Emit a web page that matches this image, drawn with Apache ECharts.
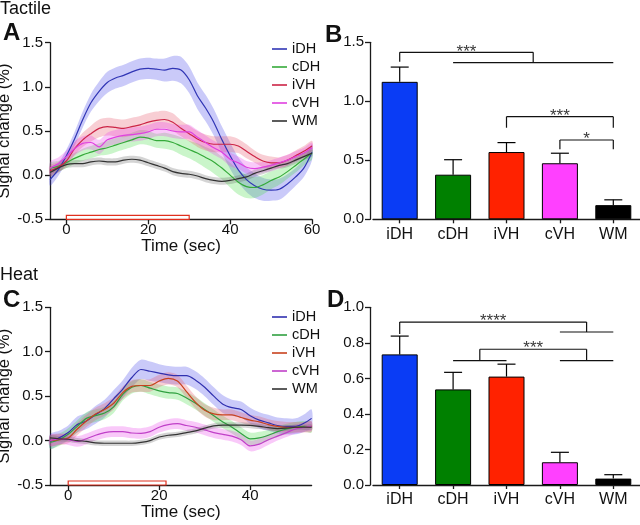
<!DOCTYPE html>
<html><head><meta charset="utf-8">
<script src="https://cdn.jsdelivr.net/npm/echarts@6/dist/echarts.min.js"></script>
<style>html,body{margin:0;padding:0;background:#fff}#c{width:640px;height:525px}</style>
</head><body><div id="c"></div>
<script>
// ---------- DATA ----------
const names = ['iDH','cDH','iVH','cVH','WM'];
const tickA = [0,20,40,60];
const tickC = [0,20,40];
const stimA = [0,30];
const stimC = [0,21.5];

const tA = [-4,-2,0,2,4,6,8,10,12,14,16,18,20,22,24,26,28,30,32,34,36,38,40,42,44,46,48,50,52,54,56,58,60];
const iDH_A = [-0.05,0.06,0.22,0.41,0.63,0.82,0.95,1.05,1.1,1.13,1.17,1.2,1.21,1.2,1.19,1.21,1.19,1.08,0.9,0.76,0.6,0.4,0.22,0.06,-0.05,-0.12,-0.16,-0.17,-0.16,-0.1,-0.02,0.08,0.26];
const cDH_A = [0.08,0.1,0.14,0.19,0.23,0.26,0.29,0.31,0.34,0.37,0.4,0.43,0.42,0.39,0.39,0.37,0.33,0.29,0.25,0.2,0.15,0.08,0.0,-0.08,-0.13,-0.14,-0.11,-0.06,-0.02,0.04,0.11,0.18,0.25];
const iVH_A = [0.05,0.09,0.16,0.3,0.4,0.47,0.53,0.55,0.54,0.53,0.55,0.57,0.6,0.62,0.63,0.6,0.53,0.47,0.41,0.37,0.35,0.35,0.35,0.33,0.27,0.21,0.16,0.14,0.14,0.17,0.22,0.27,0.33];
const cVH_A = [0.08,0.13,0.21,0.3,0.36,0.37,0.32,0.4,0.43,0.45,0.46,0.47,0.49,0.52,0.52,0.5,0.49,0.49,0.43,0.37,0.31,0.26,0.18,0.14,0.09,0.075,0.09,0.11,0.14,0.17,0.21,0.25,0.31];
const WM_A  = [0.03,0.08,0.12,0.13,0.13,0.15,0.16,0.15,0.15,0.17,0.18,0.17,0.14,0.11,0.08,0.04,0.02,0.01,-0.01,-0.04,-0.06,-0.07,-0.06,-0.04,-0.02,0.02,0.05,0.08,0.11,0.13,0.17,0.21,0.25];
const iDH_A_sem = [0.07,0.07,0.07,0.08,0.09,0.1,0.11,0.12,0.12,0.12,0.12,0.12,0.12,0.12,0.13,0.14,0.15,0.15,0.15,0.15,0.15,0.15,0.15,0.14,0.14,0.14,0.13,0.12,0.12,0.11,0.1,0.1,0.09];
const cDH_A_sem = [0.06,0.06,0.06,0.06,0.07,0.07,0.07,0.08,0.08,0.08,0.08,0.08,0.08,0.08,0.09,0.09,0.1,0.1,0.11,0.12,0.13,0.13,0.14,0.14,0.13,0.12,0.11,0.1,0.09,0.08,0.08,0.07,0.07];
const iVH_A_sem = [0.06,0.06,0.06,0.07,0.08,0.09,0.1,0.1,0.1,0.1,0.1,0.1,0.1,0.1,0.1,0.1,0.09,0.09,0.09,0.09,0.09,0.09,0.09,0.08,0.08,0.07,0.07,0.07,0.06,0.06,0.06,0.06,0.06];
const cVH_A_sem = [0.07,0.07,0.07,0.08,0.08,0.08,0.08,0.08,0.08,0.08,0.08,0.08,0.08,0.08,0.08,0.08,0.08,0.08,0.08,0.08,0.08,0.08,0.08,0.07,0.07,0.07,0.06,0.06,0.06,0.06,0.06,0.06,0.06];
const WM_A_sem  = [0.05,0.05,0.04,0.04,0.04,0.04,0.04,0.04,0.04,0.04,0.04,0.04,0.04,0.04,0.04,0.04,0.04,0.04,0.04,0.04,0.04,0.04,0.04,0.04,0.04,0.04,0.04,0.04,0.04,0.04,0.04,0.04,0.04];

const tC = [-4,-2,0,2,4,6,8,10,12,14,16,18,20,22,24,26,28,30,32,34,36,38,40,42,44,46,48,50,52,53.5];
const iDH_C = [-0.01,0.03,0.09,0.18,0.22,0.29,0.36,0.47,0.58,0.71,0.8,0.78,0.76,0.74,0.73,0.73,0.68,0.6,0.5,0.41,0.37,0.35,0.28,0.23,0.2,0.17,0.16,0.16,0.2,0.25];
const cDH_C = [-0.02,0.01,0.07,0.16,0.25,0.28,0.31,0.38,0.52,0.6,0.62,0.59,0.56,0.54,0.53,0.48,0.42,0.35,0.28,0.21,0.15,0.08,0.02,0.03,0.06,0.1,0.13,0.15,0.16,0.15];
const iVH_C = [0.0,0.01,0.03,0.13,0.22,0.3,0.35,0.42,0.54,0.61,0.62,0.62,0.67,0.7,0.67,0.55,0.43,0.34,0.3,0.29,0.29,0.26,0.23,0.21,0.18,0.16,0.15,0.15,0.15,0.16];
const cVH_C = [0.0,0.02,0.01,-0.01,0.02,0.06,0.09,0.1,0.1,0.085,0.08,0.1,0.15,0.18,0.19,0.17,0.15,0.12,0.09,0.07,0.05,0.01,-0.06,-0.04,0.01,0.05,0.09,0.13,0.15,0.16];
const WM_C  = [0.03,0.02,0.015,0.0,-0.01,-0.025,-0.03,-0.03,-0.03,-0.03,-0.02,0.0,0.04,0.06,0.07,0.09,0.11,0.14,0.165,0.175,0.175,0.175,0.17,0.16,0.145,0.135,0.14,0.15,0.15,0.15];
const iDH_C_sem = [0.08,0.08,0.08,0.09,0.09,0.1,0.1,0.1,0.1,0.11,0.11,0.11,0.1,0.1,0.1,0.1,0.1,0.1,0.1,0.1,0.09,0.09,0.09,0.09,0.09,0.09,0.09,0.09,0.1,0.1];
const cDH_C_sem = [0.07,0.07,0.07,0.07,0.07,0.07,0.07,0.07,0.07,0.07,0.07,0.07,0.07,0.07,0.07,0.07,0.07,0.07,0.07,0.07,0.07,0.07,0.07,0.07,0.06,0.06,0.06,0.06,0.06,0.06];
const iVH_C_sem = [0.06,0.06,0.06,0.07,0.07,0.07,0.07,0.07,0.07,0.07,0.07,0.07,0.07,0.07,0.07,0.07,0.07,0.07,0.07,0.06,0.06,0.06,0.06,0.06,0.06,0.06,0.06,0.06,0.06,0.06];
const cVH_C_sem = [0.06,0.06,0.06,0.06,0.06,0.06,0.06,0.06,0.06,0.06,0.06,0.06,0.06,0.06,0.06,0.06,0.06,0.06,0.06,0.06,0.06,0.06,0.06,0.06,0.06,0.05,0.05,0.05,0.05,0.05];
const WM_C_sem  = [0.03,0.03,0.03,0.03,0.03,0.03,0.03,0.03,0.03,0.03,0.03,0.03,0.03,0.03,0.03,0.03,0.03,0.03,0.03,0.03,0.03,0.03,0.03,0.03,0.03,0.03,0.03,0.03,0.03,0.03];

const barB = [1.165,0.378,0.57,0.475,0.12];
const errB = [0.125,0.127,0.08,0.085,0.045];
const barD = [0.735,0.538,0.61,0.128,0.036];
const errD = [0.103,0.096,0.07,0.056,0.022];

// significance brackets: segments [x1,y1,x2,y2] in (category index, value)
const sigB = [
  {segs:[[0,1.336,0,1.415],[0,1.415,2.5,1.415],[2.5,1.415,2.5,1.327],[1,1.327,4,1.327]], text:'***', at:[1.25,1.415]},
  {segs:[[2,0.776,2,0.87],[2,0.87,4,0.87],[4,0.87,4,0.776]], text:'***', at:[3,0.87]},
  {segs:[[3,0.593,3,0.672],[3,0.672,4,0.672],[4,0.672,4,0.593]], text:'*', at:[3.5,0.672]}
];
const sigD = [
  {segs:[[0,0.85,0,0.917],[0,0.917,3.5,0.917],[3.5,0.917,3.5,0.861],[3,0.861,4,0.861]], text:'****', at:[1.75,0.917]},
  {segs:[[1.5,0.70,1.5,0.764],[1.5,0.764,3.5,0.764],[3.5,0.764,3.5,0.70],[1,0.70,2,0.70],[3,0.70,4,0.70]], text:'***', at:[2.5,0.764]}
];

// ---------- STYLE ----------
const lineColA = ['#3035b5','#35aa3a','#cc2446','#e040e0','#333333'];
const lineColC = ['#3030b0','#30a040','#c8421e','#c040c8','#333333'];
const bandCol  = ['rgba(64,64,232,0.28)','rgba(64,220,64,0.28)','rgba(230,80,100,0.28)','rgba(235,60,235,0.28)','rgba(100,100,100,0.28)'];
const barCol   = ['#0a3cf5','#008000','#ff2200','#ff40ff','#000000'];
const FONT = 'Liberation Sans, Arial, sans-serif';
const AX = '#1a1a1a';

const meansA = [iDH_A,cDH_A,iVH_A,cVH_A,WM_A], semsA=[iDH_A_sem,cDH_A_sem,iVH_A_sem,cVH_A_sem,WM_A_sem];
const meansC = [iDH_C,cDH_C,iVH_C,cVH_C,WM_C], semsC=[iDH_C_sem,cDH_C_sem,iVH_C_sem,cVH_C_sem,WM_C_sem];

function band(xi, yi, times, mean, sem, color){
  return {type:'custom', xAxisIndex:xi, yAxisIndex:yi, silent:true, z:1,
    data: times.map((t,i)=>[t, mean[i]]),
    renderItem:(p, api)=>{
      if (p.dataIndex !== 0) return null;
      const up = times.map((t,i)=>api.coord([t, mean[i]+sem[i]]));
      const lo = times.map((t,i)=>api.coord([t, mean[i]-sem[i]])).reverse();
      return {type:'polygon', shape:{points:up.concat(lo), smooth:0.3}, style:{fill:color}};
    }};
}
function line(name, xi, yi, times, mean, color){
  return {type:'line', name, xAxisIndex:xi, yAxisIndex:yi, z:3, data:times.map((t,i)=>[t,mean[i]]),
    showSymbol:false, symbol:'none', smooth:0.3, lineStyle:{width:1.2, color}, itemStyle:{color}};
}
function stim(xi, yi, s){
  return {type:'custom', xAxisIndex:xi, yAxisIndex:yi, silent:true, z:2, data:[s],
    renderItem:(p, api)=>{
      const a = api.coord([api.value(0), -0.5]), b = api.coord([api.value(1), -0.5]);
      return {type:'rect', shape:{x:a[0], y:a[1]-4, width:b[0]-a[0], height:4},
        style:{fill:'#fff', stroke:'#e0301e', lineWidth:1.2}};
    }};
}
function errbars(xi, yi, vals, errs){
  return {type:'custom', xAxisIndex:xi, yAxisIndex:yi, silent:true, z:4,
    data: vals.map((v,i)=>[i, v, v+errs[i]]),
    renderItem:(p, api)=>{
      const a = api.coord([api.value(0), api.value(1)]), b = api.coord([api.value(0), api.value(2)]);
      return {type:'group', children:[
        {type:'line', shape:{x1:a[0], y1:a[1], x2:b[0], y2:b[1]}, style:{stroke:'#000', lineWidth:1.2}},
        {type:'line', shape:{x1:b[0]-9, y1:b[1], x2:b[0]+9, y2:b[1]}, style:{stroke:'#000', lineWidth:1.2}}
      ]};
    }};
}
function brackets(xi, yi, sig){
  const data = [];
  sig.forEach((g,gi)=>{ g.segs.forEach(s=>data.push([s[0],s[1],s[2],s[3],gi,0])); data.push([g.at[0],g.at[1],0,0,gi,1]); });
  return {type:'custom', xAxisIndex:xi, yAxisIndex:yi, silent:true, z:5, data,
    renderItem:(p, api)=>{
      if (api.value(5) === 1) {
        const c = api.coord([api.value(0), api.value(1)]);
        return {type:'text', x:c[0], y:c[1]-0.5, style:{text: sig[api.value(4)].text, align:'center', verticalAlign:'middle',
          fontSize:17, fontFamily:FONT, fill:'#3a3a3a'}};
      }
      const a = api.coord([api.value(0), api.value(1)]), b = api.coord([api.value(2), api.value(3)]);
      return {type:'line', shape:{x1:a[0], y1:a[1], x2:b[0], y2:b[1]}, style:{stroke:'#111', lineWidth:1.2}};
    }};
}
const axisLineS = {show:true, onZero:false, lineStyle:{color:AX, width:1.3}};
const tickS = {show:true, length:5, lineStyle:{color:AX, width:1.3}};
function timeAxis(gi, max, ticks){
  return {type:'value', gridIndex:gi, min:-4, max, axisLine:axisLineS,
    axisTick:{...tickS, customValues:ticks}, axisLabel:{customValues:ticks, fontSize:15, color:'#111', margin:3, fontFamily:FONT},
    splitLine:{show:false}, name:'Time (sec)', nameLocation:'middle', nameGap:15,
    nameTextStyle:{fontSize:17, color:'#111', fontFamily:FONT, verticalAlign:'top'}};
}
function sigAxis(gi){
  return {type:'value', gridIndex:gi, min:-0.5, max:1.5, interval:0.5, axisLine:axisLineS, axisTick:tickS,
    splitLine:{show:false}, axisLabel:{fontSize:15, color:'#111', margin:7, fontFamily:FONT, formatter:v=>v.toFixed(1)},
    name:'Signal change (%)', nameLocation:'middle', nameGap:31, nameTextStyle:{fontSize:16.5, color:'#111', fontFamily:FONT}};
}
function catAxis(gi){
  return {type:'category', gridIndex:gi, data:names, axisLine:axisLineS,
    axisTick:{show:true, alignWithLabel:true, length:4, lineStyle:{color:AX, width:1.3}},
    axisLabel:{fontSize:16, color:'#111', margin:7, fontFamily:FONT}};
}
function hidAxis(gi){ return {type:'value', gridIndex:gi, min:-0.5, max:4.5, show:false}; }

const yA = sigAxis(0);
const yC = sigAxis(2);
const yB = {type:'value', gridIndex:1, min:0, max:1.5, interval:0.5, offset:3, axisLine:axisLineS, axisTick:tickS,
  splitLine:{show:false}, axisLabel:{fontSize:15, color:'#111', margin:6, fontFamily:FONT, formatter:v=>v.toFixed(1)}};
const yD = {type:'value', gridIndex:3, min:0, max:1.0, interval:0.2, offset:3, axisLine:axisLineS, axisTick:tickS,
  splitLine:{show:false}, axisLabel:{fontSize:15, color:'#111', margin:6, fontFamily:FONT, formatter:v=>v.toFixed(1)}};

const series = [];
names.forEach((n,i)=>series.push(band(0,0,tA,meansA[i],semsA[i],bandCol[i])));
names.forEach((n,i)=>series.push(line(n,0,0,tA,meansA[i],lineColA[i])));
series.push(stim(0,0,stimA));
names.forEach((n,i)=>series.push(band(2,2,tC,meansC[i],semsC[i],bandCol[i])));
names.forEach((n,i)=>series.push(line(n,2,2,tC,meansC[i],lineColC[i])));
series.push(stim(2,2,stimC));
series.push({type:'bar', xAxisIndex:1, yAxisIndex:1, barWidth:36, z:3,
  data:barB.map((v,i)=>({value:v, itemStyle:{color:barCol[i], borderColor:'#000', borderWidth:1}}))});
series.push(errbars(1,1,barB,errB));
series.push(brackets(4,1,sigB));
series.push({type:'bar', xAxisIndex:3, yAxisIndex:3, barWidth:36, z:3,
  data:barD.map((v,i)=>({value:v, itemStyle:{color:barCol[i], borderColor:'#000', borderWidth:1}}))});
series.push(errbars(3,3,barD,errD));
series.push(brackets(5,3,sigD));

const titleTS = (s,b)=>({fontSize:s, fontWeight:b?'bold':'normal', color:'#111', fontFamily:FONT});
const legendBase = {orient:'vertical', left:267, itemWidth:15, itemHeight:1.6, itemGap:2, icon:'rect', selectedMode:false,
  textStyle:{fontSize:14.5, lineHeight:16, color:'#111', fontFamily:FONT}};

const option = {
  animation:false,
  textStyle:{fontFamily:FONT},
  title:[
    {text:'Tactile', left:0, top:0, padding:0, textStyle:titleTS(18,false)},
    {text:'A', left:3, top:21, padding:0, textStyle:titleTS(24,true)},
    {text:'B', left:325, top:23, padding:0, textStyle:titleTS(24,true)},
    {text:'Heat', left:0, top:266, padding:0, textStyle:titleTS(18,false)},
    {text:'C', left:3, top:288, padding:0, textStyle:titleTS(24,true)},
    {text:'D', left:327, top:288, padding:0, textStyle:titleTS(24,true)}
  ],
  legend:[
    {...legendBase, top:36, data:names.map((n,i)=>({name:n, itemStyle:{color:lineColA[i], borderWidth:0}}))},
    {...legendBase, top:304, data:names.map((n,i)=>({name:n, itemStyle:{color:lineColC[i], borderWidth:0}}))}
  ],
  grid:[
    {left:50, top:42.7, width:262, height:176.6, outerBoundsMode:'none'},
    {left:373, top:42.3, width:267, height:177, outerBoundsMode:'none'},
    {left:50, top:307.3, width:261.6, height:177.7, outerBoundsMode:'none'},
    {left:373, top:307.3, width:267, height:177.7, outerBoundsMode:'none'}
  ],
  xAxis:[timeAxis(0,60,tickA), catAxis(1), timeAxis(2,53.5,tickC), catAxis(3), hidAxis(1), hidAxis(3)],
  yAxis:[yA, yB, yC, yD],
  series
};
const chart = echarts.init(document.getElementById('c'), null, {renderer:'canvas'});
chart.setOption(option);
</script></body></html>
